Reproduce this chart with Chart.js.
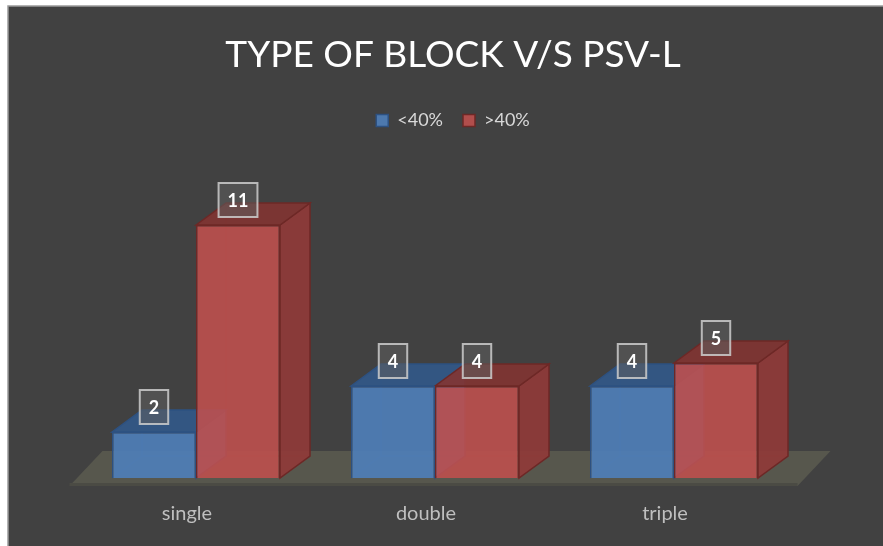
<!DOCTYPE html>
<html>
<head>
<meta charset="utf-8">
<script src="https://cdn.jsdelivr.net/npm/chart.js@4.4.0/dist/chart.umd.min.js"></script>
<style>
html, body { margin: 0; padding: 0; background: #fff; }
#wrap { width: 883px; height: 546px; }
</style>
</head>
<body>
<div id="wrap"><canvas id="blockChart" width="883" height="546"></canvas></div>
<script>
// Dữ liệu biểu đồ
const categories = ['single', 'double', 'triple'];
const seriesNames = ['<40%', '>40%'];
const below40 = [2, 4, 4];
const above40 = [11, 4, 5];

// Màu cho mỗi series: mặt trước, mặt trên, mặt bên, viền
const palette = [
    { front: 'rgba(79, 129, 189, 0.88)', top: 'rgba(50, 88, 136, 0.92)', side: 'rgba(62, 104, 156, 0.9)', edge: '#2d5181' },
    { front: 'rgba(192, 80, 77, 0.88)', top: 'rgba(128, 52, 50, 0.92)', side: 'rgba(145, 58, 56, 0.9)', edge: '#6d2826' }
];

// Độ sâu 3D và tỉ lệ (px cho 1 đơn vị)
const depthX = 30;
const depthY = 22;
const pxPerUnit = 23;

// Vẽ nền tối và khung
const backgroundPlugin = {
    id: 'backgroundPlugin',
    beforeDraw(chart) {
        const ctx = chart.ctx;
        ctx.save();
        ctx.fillStyle = '#ffffff';
        ctx.fillRect(0, 0, chart.width, chart.height);
        ctx.fillStyle = '#414141';
        ctx.fillRect(8, 6, chart.width - 8, chart.height - 6);
        ctx.strokeStyle = '#9a9a9a';
        ctx.lineWidth = 1.5;
        ctx.beginPath();
        ctx.moveTo(8, chart.height);
        ctx.lineTo(8, 6);
        ctx.lineTo(chart.width, 6);
        ctx.stroke();
        ctx.restore();
    }
};

// Sàn và các mặt 3D của cột
const depthPlugin = {
    id: 'depthPlugin',
    beforeDatasetsDraw(chart) {
        const ctx = chart.ctx;
        const area = chart.chartArea;
        const base = chart.scales.y.getPixelForValue(0);
        ctx.save();

        // Sàn
        ctx.fillStyle = '#57574d';
        ctx.beginPath();
        ctx.moveTo(area.left - 7, base + 8);
        ctx.lineTo(area.right + 4, base + 8);
        ctx.lineTo(area.right + 37, base - 27);
        ctx.lineTo(area.left + 26, base - 27);
        ctx.closePath();
        ctx.fill();
        ctx.fillStyle = '#4b4b44';
        ctx.fillRect(area.left - 7, base + 5, area.right - area.left + 11, 3);

        chart.data.datasets.forEach((ds, di) => {
            const col = palette[di];
            chart.getDatasetMeta(di).data.forEach(bar => {
                const { x, y, width } = bar.getProps(['x', 'y', 'width'], true);
                const l = x - width / 2;
                const r = x + width / 2;
                ctx.lineWidth = 1.5;
                ctx.strokeStyle = col.edge;

                // Cạnh phía sau (thấy qua mặt trước trong suốt)
                ctx.beginPath();
                ctx.moveTo(l, base);
                ctx.lineTo(l + depthX, base - depthY);
                ctx.lineTo(r + depthX, base - depthY);
                ctx.moveTo(l + depthX, base - depthY);
                ctx.lineTo(l + depthX, y - depthY);
                ctx.globalAlpha = 0.35;
                ctx.stroke();
                ctx.globalAlpha = 1;

                // Mặt bên
                ctx.fillStyle = col.side;
                ctx.beginPath();
                ctx.moveTo(r, y);
                ctx.lineTo(r + depthX, y - depthY);
                ctx.lineTo(r + depthX, base - depthY);
                ctx.lineTo(r, base);
                ctx.closePath();
                ctx.fill();
                ctx.stroke();

                // Mặt trên
                ctx.fillStyle = col.top;
                ctx.beginPath();
                ctx.moveTo(l, y);
                ctx.lineTo(l + depthX, y - depthY);
                ctx.lineTo(r + depthX, y - depthY);
                ctx.lineTo(r, y);
                ctx.closePath();
                ctx.fill();
                ctx.stroke();
            });
        });
        ctx.restore();
    },
    afterDatasetsDraw(chart) {
        const ctx = chart.ctx;
        const base = chart.scales.y.getPixelForValue(0);
        ctx.save();

        // Nhãn trục x
        ctx.font = '20px Lato';
        ctx.fillStyle = '#bfbfbf';
        ctx.textAlign = 'center';
        ctx.textBaseline = 'middle';
        categories.forEach((c, i) => {
            ctx.fillText(c, chart.scales.x.getPixelForValue(i) - 9, base + 36);
        });

        // Nhãn giá trị
        ctx.font = 'bold 18px Lato';
        chart.data.datasets.forEach((ds, di) => {
            chart.getDatasetMeta(di).data.forEach((bar, i) => {
                const { x, y } = bar.getProps(['x', 'y'], true);
                const txt = String(ds.data[i]);
                const w = ctx.measureText(txt).width + 18;
                const h = 34;
                const bx = x - w / 2;
                const by = y - 8 - h;
                ctx.fillStyle = 'rgba(95, 95, 95, 0.55)';
                ctx.fillRect(bx, by, w, h);
                ctx.strokeStyle = 'rgba(205, 205, 205, 0.85)';
                ctx.lineWidth = 2;
                ctx.strokeRect(bx, by, w, h);
                ctx.fillStyle = '#ffffff';
                ctx.fillText(txt, x, by + h / 2 + 1);
            });
        });
        ctx.restore();
    }
};

const ctx = document.getElementById('blockChart').getContext('2d');
const blockChart = new Chart(ctx, {
    type: 'bar',
    data: {
        labels: categories,
        datasets: [
            {
                label: seriesNames[0],
                data: below40,
                backgroundColor: palette[0].front,
                borderColor: palette[0].edge,
                borderWidth: 1.5,
                categoryPercentage: 0.703,
                barPercentage: 1.0
            },
            {
                label: seriesNames[1],
                data: above40,
                backgroundColor: palette[1].front,
                borderColor: palette[1].edge,
                borderWidth: 1.5,
                categoryPercentage: 0.703,
                barPercentage: 1.0
            }
        ]
    },
    options: {
        responsive: false,
        animation: false,
        layout: {
            padding: { left: 23, right: 0, top: 0, bottom: 68 }
        },
        scales: {
            x: {
                display: false
            },
            y: {
                position: 'left',
                min: 0,
                max: 14,
                ticks: { display: false },
                grid: { display: false },
                border: { display: false },
                afterFit: scale => { scale.width = 53.5; }
            },
            yRight: {
                position: 'right',
                ticks: { display: false },
                grid: { display: false },
                border: { display: false },
                afterFit: scale => { scale.width = 89.5; }
            }
        },
        plugins: {
            title: {
                display: true,
                text: 'TYPE OF BLOCK V/S PSV-L',
                color: '#ffffff',
                font: { family: 'Lato', size: 37, weight: 'normal' },
                padding: { top: 33, bottom: 14 }
            },
            legend: {
                display: true,
                position: 'top',
                labels: {
                    color: '#d9d9d9',
                    font: { family: 'Lato', size: 18 },
                    boxWidth: 12,
                    boxHeight: 12,
                    padding: 20
                }
            },
            tooltip: { enabled: false }
        }
    },
    plugins: [backgroundPlugin, depthPlugin]
});

// Đặt max trục y để 1 đơn vị = 23px
const area = blockChart.chartArea;
blockChart.options.scales.y.max = (area.bottom - area.top) / pxPerUnit;
blockChart.update();
</script>
</body>
</html>
